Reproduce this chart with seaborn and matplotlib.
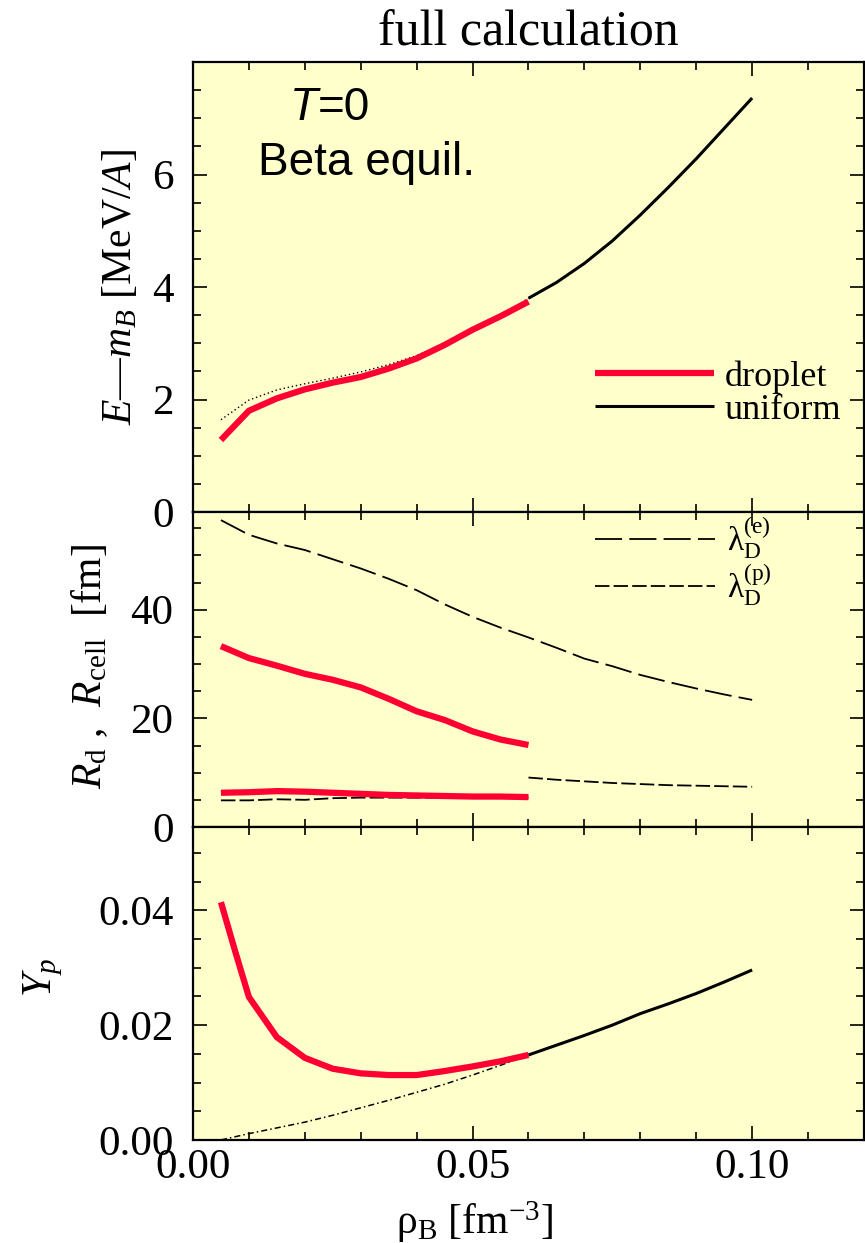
import matplotlib
matplotlib.use("Agg")
import matplotlib.pyplot as plt
from matplotlib.ticker import MultipleLocator, FormatStrFormatter
from matplotlib.offsetbox import TextArea, HPacker, AnnotationBbox
import seaborn as sns

# ---- data -------------------------------------------------------------
# baryon density [fm^-3]
rho_drop = [0.005, 0.0075, 0.01, 0.015, 0.02, 0.025, 0.03, 0.035, 0.04,
            0.045, 0.05, 0.055, 0.06]
rho_lo = [0.005, 0.01, 0.015, 0.02, 0.025, 0.03, 0.035, 0.04, 0.045,
          0.05, 0.055, 0.06]
rho_hi = [0.06, 0.065, 0.07, 0.075, 0.08, 0.085, 0.09, 0.095, 0.10]

# energy per baryon E - m_B [MeV/A]
E_drop = [1.28, 1.54, 1.80, 2.02, 2.18, 2.30, 2.40, 2.55, 2.73, 2.97,
          3.24, 3.48, 3.74]
E_unif_lo = [1.64, 1.99, 2.17, 2.28, 2.38, 2.49, 2.62, 2.78, 3.00, 3.25,
             3.50, 3.80]
E_unif_hi = [3.80, 4.08, 4.42, 4.82, 5.28, 5.77, 6.28, 6.82, 7.36]

# droplet radius and cell radius [fm]
R_cell = [33.3, 32.2, 31.1, 29.7, 28.2, 27.1, 25.7, 23.6, 21.3, 19.7,
          17.6, 16.1, 15.1]
R_d = [6.3, 6.35, 6.4, 6.6, 6.5, 6.3, 6.1, 5.9, 5.8, 5.7, 5.6, 5.6, 5.5]

# Debye screening lengths [fm]
lam_e_lo = [56.5, 53.8, 52.2, 51.0, 49.3, 47.6, 45.7, 43.6, 41.0, 38.7,
            36.7, 34.9]
lam_e_hi = [34.9, 33.0, 31.0, 29.6, 28.0, 26.7, 25.5, 24.4, 23.4]
lam_p_lo = [4.9, 4.9, 5.1, 5.0, 5.3, 5.4, 5.4, 5.4, 5.4, 5.4, 5.4, 5.4]
lam_p_hi = [9.1, 8.7, 8.4, 8.1, 7.9, 7.7, 7.6, 7.5, 7.4]

# proton fraction
Yp_drop = [0.0414, 0.0330, 0.0249, 0.0179, 0.0143, 0.0124, 0.0116, 0.0113,
           0.0113, 0.0120, 0.0128, 0.0137, 0.0148]
Yp_unif_lo = [0.0000, 0.0011, 0.0021, 0.0031, 0.0043, 0.0056, 0.0069,
              0.0083, 0.0097, 0.0113, 0.0130, 0.0148]
Yp_unif_hi = [0.0148, 0.0165, 0.0182, 0.0200, 0.0220, 0.0237, 0.0255,
              0.0275, 0.0296]

x_ticks = [0.00, 0.05, 0.10]

# ---- style ------------------------------------------------------------
sns.set_style("ticks")
plt.rcParams.update({
    "font.family": ["Liberation Serif", "DejaVu Serif"],
    "mathtext.fontset": "custom",
    "mathtext.rm": "Liberation Serif",
    "mathtext.it": "Liberation Serif:italic",
    "mathtext.bf": "Liberation Serif:bold",
    "axes.linewidth": 1.6,
    "axes.edgecolor": "black",
    "text.color": "black",
    "axes.labelcolor": "black",
})

BG = "#FFFFCC"
RED = "#FF0033"
TICK_FS = 31
LAB_FS = 30

fig = plt.figure(figsize=(8.65, 12.43), dpi=100)
left, width = 0.2231, 0.7757
ax1 = fig.add_axes([left, 0.5881, width, 0.3620])
ax2 = fig.add_axes([left, 0.3347, width, 0.2534], sharex=ax1)
ax3 = fig.add_axes([left, 0.0829, width, 0.2518], sharex=ax1)


def line(ax, x, y, **kw):
    sns.lineplot(x=x, y=y, ax=ax, estimator=None, sort=False, legend=False,
                 **kw)
    ln = ax.lines[-1]
    ln.set_solid_joinstyle("round")
    ln.set_solid_capstyle("butt")
    return ln


# energy
line(ax1, rho_lo, E_unif_lo, color="black", lw=1.0, linestyle=(0, (1, 2)))
h_unif = line(ax1, rho_hi, E_unif_hi, color="black", lw=2.2)
h_drop = line(ax1, rho_drop, E_drop, color=RED, lw=4.5)

# radii and screening lengths
h_lam_e = line(ax2, rho_lo + rho_hi[1:], lam_e_lo + lam_e_hi[1:],
               color="black", lw=1.3, linestyle=(0, (15, 4)))
line(ax2, rho_lo, lam_p_lo, color="black", lw=1.3, linestyle=(0, (8, 2.3)))
h_lam_p = line(ax2, rho_hi, lam_p_hi, color="black", lw=1.3,
               linestyle=(0, (8, 2.3)))
line(ax2, rho_drop, R_cell, color=RED, lw=4.5)
line(ax2, rho_drop, R_d, color=RED, lw=4.5)

# proton fraction
line(ax3, rho_lo, Yp_unif_lo, color="black", lw=1.1,
     linestyle=(0, (4, 2, 1, 2)))
line(ax3, rho_hi, Yp_unif_hi, color="black", lw=2.2)
line(ax3, rho_drop, Yp_drop, color=RED, lw=4.5)

# ---- axes -------------------------------------------------------------
for ax in (ax1, ax2, ax3):
    ax.set_facecolor(BG)
    ax.set_xlim(0, 0.12)
    ax.set_xticks(x_ticks)
    ax.xaxis.set_minor_locator(MultipleLocator(0.01))
    ax.tick_params(which="both", direction="in", top=True, right=True,
                   width=1.2, color="black", labelcolor="black")
    ax.tick_params(which="major", length=10, labelsize=TICK_FS)
    ax.tick_params(which="minor", length=5.5)
    ax.tick_params(axis="y", which="major", pad=14)
    ax.tick_params(axis="x", which="major", pad=6)
    for s in ax.spines.values():
        s.set_linewidth(1.6)
        s.set_color("black")
    ax.set_xlabel("")
    ax.set_ylabel("")

ax1.tick_params(labelbottom=False)
ax2.tick_params(labelbottom=False)

ax1.set_ylim(0, 8)
ax1.set_yticks([0, 2, 4, 6])
ax1.yaxis.set_minor_locator(MultipleLocator(0.5))

ax2.set_ylim(0, 58)
ax2.set_yticks([0, 20, 40])
ax2.yaxis.set_minor_locator(MultipleLocator(5))

ax3.set_ylim(0, 0.0545)
ax3.set_yticks([0.0, 0.02, 0.04])
ax3.yaxis.set_minor_locator(MultipleLocator(0.005))
ax3.yaxis.set_major_formatter(FormatStrFormatter("%.2f"))
ax3.xaxis.set_major_formatter(FormatStrFormatter("%.2f"))

ax1.set_ylabel(r"$E$—$m_B$ [MeV/$A$]", fontsize=LAB_FS)
ax1.yaxis.set_label_coords(-0.079, 0.5)
ax2.set_ylabel(r"$R_{\rm d}$ ,  $R_{\rm cell}$  [fm]", fontsize=LAB_FS)
ax2.yaxis.set_label_coords(-0.124, 0.51)
ax3.set_ylabel(r"$Y_p$", fontsize=LAB_FS)
ax3.yaxis.set_label_coords(-0.19, 0.52)
ax3.set_xlabel(r"ρ$_{\rm B}$ [fm$^{-3}$]", fontsize=LAB_FS, va="top")
ax3.xaxis.set_label_coords(0.42, -0.19)

fig.text(528 / 865, 1 - 45 / 1243, "full calculation", ha="center",
         va="baseline", fontsize=36, color="black")

# annotations
sans = dict(family="Liberation Sans", size=33, color="black")
tbox = HPacker(children=[TextArea("T", textprops=dict(style="italic", **sans)),
                         TextArea("=0", textprops=sans)],
               align="baseline", pad=0, sep=0)
ax1.add_artist(AnnotationBbox(tbox, (0.204, 0.897), xycoords="axes fraction",
                              frameon=False, box_alignment=(0.5, 0.5), pad=0))
ax1.text(0.097, 0.749, "Beta equil.", transform=ax1.transAxes, ha="left",
         va="baseline", **sans)

# legends
leg1 = ax1.legend([h_drop, h_unif], ["droplet", "uniform"], loc="center left",
                  bbox_to_anchor=(0.599, 0.263), frameon=False, fontsize=26,
                  handlelength=3.3, handletextpad=0.3, labelspacing=0.0,
                  borderpad=0, borderaxespad=0)
leg2 = ax2.legend([h_lam_e, h_lam_p],
                  [r"λ$_{\rm D}^{\rm (e)}$", r"λ$_{\rm D}^{\rm (p)}$"],
                  loc="center left", bbox_to_anchor=(0.599, 0.843),
                  frameon=False, fontsize=24, handlelength=3.6,
                  handletextpad=0.35, labelspacing=0.02, borderpad=0,
                  borderaxespad=0)

fig.savefig("out.png", dpi=100, facecolor="white")
